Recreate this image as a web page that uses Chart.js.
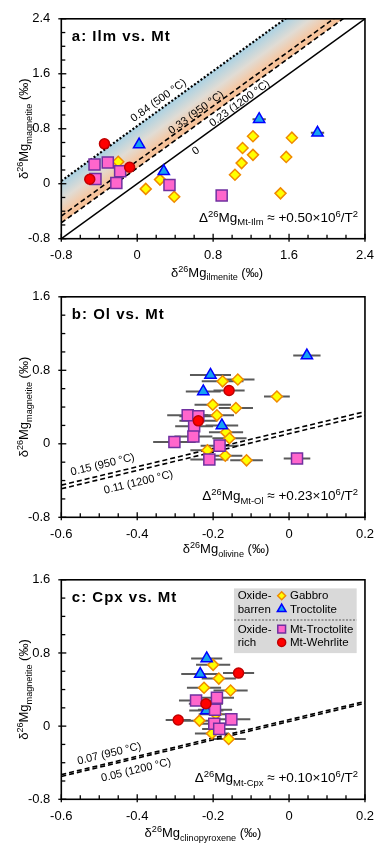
<!DOCTYPE html>
<html>
<head>
<meta charset="utf-8">
<script src="https://cdn.jsdelivr.net/npm/chart.js@4.4.1/dist/chart.umd.min.js"></script>
<style>
    html, body { margin: 0; padding: 0; background: #fff; }
    #wrap { position: relative; width: 383px; height: 848px; }
    canvas { position: absolute; left: 0; }
</style>
</head>
<body>
<div id="wrap">
    <canvas id="chartA" width="383" height="284" style="top:0px"></canvas>
    <canvas id="chartB" width="383" height="284" style="top:278px"></canvas>
    <canvas id="chartC" width="383" height="287" style="top:561px"></canvas>
</div>
<script>
// ---- panel a: ilmenite vs magnetite ----
const gabbroIlmX = [-0.20, 0.09, 0.24, 0.39, 1.22, 1.63, 1.11, 1.22, 1.57, 1.10, 1.03, 1.51];
const gabbroIlmY = [0.32, -0.075, 0.06, -0.19, 0.69, 0.67, 0.52, 0.42, 0.39, 0.30, 0.13, -0.14];
const troctIlmX = [0.02, 0.28, 1.285, 1.90];
const troctIlmY = [0.57, 0.18, 0.94, 0.74];
const troctIlmErr = [0, 0, 0.07, 0.07];
const mtTroctIlmX = [-0.45, -0.31, -0.44, -0.18, -0.22, 0.34, 0.89];
const mtTroctIlmY = [0.28, 0.31, 0.07, 0.18, 0.01, -0.02, -0.17];
const wehrIlmX = [-0.345, -0.50, -0.08];
const wehrIlmY = [0.58, 0.065, 0.24];
const ilmDeltas = [0.84, 0.33, 0.23, 0];
const ilmDeltaLabels = ['0.84 (500 °C)', '0.33 (950 °C)', '0.23 (1200 °C)', '0'];

// ---- panel b: olivine vs magnetite ----
const gabbroOlX = [-0.175, -0.135, -0.032, -0.201, -0.14, -0.19, -0.166, -0.157, -0.215, -0.168, -0.112];
const gabbroOlY = [0.68, 0.70, 0.515, 0.425, 0.39, 0.31, 0.125, 0.06, -0.07, -0.13, -0.18];
const gabbroOlErr = [0.055, 0.044, 0.034, 0.048, 0.045, 0.045, 0.045, 0.045, 0.045, 0.045, 0.043];
const troctOlX = [0.047, -0.207, -0.226, -0.177];
const troctOlY = [0.96, 0.75, 0.57, 0.20];
const troctOlErr = [0.036, 0.054, 0.046, 0.043];
const mtTroctOlX = [-0.267, -0.239, -0.25, -0.302, -0.252, -0.183, -0.21, 0.021];
const mtTroctOlY = [0.31, 0.30, 0.19, 0.02, 0.08, -0.02, -0.17, -0.16];
const mtTroctOlErr = [0.054, 0.05, 0.05, 0.056, 0.05, 0.05, 0.05, 0.035];
const wehrOlX = [-0.158, -0.239];
const wehrOlY = [0.58, 0.25];
const wehrOlErr = [0.041, 0.05];
const olDeltas = [0.15, 0.11];
const olDeltaLabels = ['0.15 (950 °C)', '0.11 (1200 °C)'];

// ---- panel c: clinopyroxene vs magnetite ----
const gabbroCpxX = [-0.2, -0.185, -0.224, -0.154, -0.193, -0.236, -0.203, -0.159];
const gabbroCpxY = [0.67, 0.52, 0.42, 0.39, 0.13, 0.06, -0.08, -0.14];
const gabbroCpxErr = [0.045, 0.045, 0.045, 0.045, 0.045, 0.045, 0.045, 0.045];
const troctCpxX = [-0.217, -0.234, -0.218];
const troctCpxY = [0.74, 0.57, 0.17];
const troctCpxErr = [0.041, 0.05, 0.045];
const mtTroctCpxX = [-0.245, -0.19, -0.195, -0.152, -0.197, -0.184];
const mtTroctCpxY = [0.28, 0.31, 0.18, 0.074, 0.025, -0.03];
const mtTroctCpxErr = [0.045, 0.045, 0.045, 0.05, 0.045, 0.045];
const wehrCpxX = [-0.133, -0.219, -0.292];
const wehrCpxY = [0.58, 0.245, 0.067];
const wehrCpxErr = [0.041, 0.045, 0.033];
const cpxDeltas = [0.07, 0.05];
const cpxDeltaLabels = ['0.07 (950 °C)', '0.05 (1200 °C)'];

const legendGroups = ['Oxide-', 'barren', 'Oxide-', 'rich'];
const legendNames = ['Gabbro', 'Troctolite', 'Mt-Troctolite', 'Mt-Wehrlite'];

const FAM = '"Liberation Sans", Arial, Helvetica, sans-serif';
Chart.defaults.font.family = FAM;
Chart.defaults.color = '#000';

const STY = {
    gabbro:  { style: 'rectRot',  r: 5.5, bg: '#ffff00', bd: '#f08a00' },
    troct:   { style: 'triangle', r: 6.5, bg: '#17a2f2', bd: '#0000ff' },
    mtTroct: { style: 'rect',     r: 7.8, bg: '#ff66cc', bd: '#7030a0' },
    wehr:    { style: 'circle',   r: 5,   bg: '#ff0000', bd: '#c00000' }
};
const LEGEND_KEYS = ['gabbro', 'troct', 'mtTroct', 'wehr'];
const ERR_COLOR = '#5a5a5a';

const pts = (xs, ys) => xs.map((x, i) => ({ x, y: ys[i] }));
const fmt = v => String(Math.round(v * 10) / 10);

function pointSet(label, key, xs, ys, errs) {
    const s = STY[key];
    return {
        type: 'scatter', label, data: pts(xs, ys), errX: errs || null,
        pointStyle: s.style, pointRadius: s.r, backgroundColor: s.bg, borderColor: s.bd,
        pointBorderWidth: 1.5, order: 0
    };
}

function refLine(d, xMin, xMax, st) {
    return {
        type: 'line', data: [{ x: xMin, y: xMin + d }, { x: xMax, y: xMax + d }],
        borderColor: '#000', borderWidth: st.w, borderDash: st.dash, pointRadius: 0,
        fill: false, tension: 0, order: 1
    };
}

// gradient across the band, perpendicular to the 1:1 lines
function bandGradient(dTop, dBot) {
    return (c) => {
        const ch = c.chart, xs = ch.scales.x, ys = ch.scales.y;
        if (!ch.chartArea || !xs || !ys) return 'rgba(0,0,0,0)';
        const xm = (xs.min + xs.max) / 2;
        const p1x = xs.getPixelForValue(xm), p1y = ys.getPixelForValue(xm + dTop);
        const qy = ys.getPixelForValue(xm + dBot);
        const ux = xs.getPixelForValue(xm + 1) - p1x, uy = ys.getPixelForValue(xm + 1 + dTop) - p1y;
        const L = Math.hypot(ux, uy), nx = -uy / L, ny = ux / L;
        const t = (qy - p1y) * ny;
        const g = ch.ctx.createLinearGradient(p1x, p1y, p1x + nx * t, p1y + ny * t);
        g.addColorStop(0, '#a9d1e3');
        g.addColorStop(0.45, '#e1dcd4');
        g.addColorStop(0.83, '#f7c6a0');
        g.addColorStop(1, '#f5bf95');
        return g;
    };
}

// text with super/subscripts: parts = [[text, 'n'|'sup'|'sub'], ...]
function rich(ctx, parts, x, y, size, align, rot) {
    const small = size * 0.7;
    const font = k => (k === 'n' ? size : small) + 'px ' + FAM;
    let w = 0;
    parts.forEach(([t, k]) => { ctx.font = font(k); w += ctx.measureText(t).width; });
    ctx.save();
    ctx.translate(x, y);
    if (rot) ctx.rotate(rot);
    let cx = align === 'center' ? -w / 2 : align === 'right' ? -w : 0;
    ctx.fillStyle = '#000';
    ctx.textAlign = 'left';
    ctx.textBaseline = 'alphabetic';
    parts.forEach(([t, k]) => {
        ctx.font = font(k);
        const dy = k === 'sup' ? -size * 0.38 : k === 'sub' ? size * 0.28 : 0;
        ctx.fillText(t, cx, dy);
        cx += ctx.measureText(t).width;
    });
    ctx.restore();
}

const PANELS = {};

function drawLegend(ctx, a) {
    const bx = a.right - 131, by = a.top + 8.6, bw = 122.7, bh = 64.7;
    ctx.save();
    ctx.fillStyle = '#d9d9d9';
    ctx.fillRect(bx, by, bw, bh);
    ctx.strokeStyle = '#808080';
    ctx.lineWidth = 1.5;
    ctx.setLineDash([2, 1.5]);
    ctx.beginPath();
    ctx.moveTo(bx, by + 31.7);
    ctx.lineTo(bx + bw, by + 31.7);
    ctx.stroke();
    ctx.setLineDash([]);
    const rows = [7.4, 20.7, 40.7, 54];
    ctx.font = '11.5px ' + FAM;
    ctx.fillStyle = '#000';
    ctx.textAlign = 'left';
    ctx.textBaseline = 'middle';
    legendGroups.forEach((g, i) => ctx.fillText(g, bx + 3.7, by + rows[i] + 0.5));
    const sizes = { gabbro: 4, troct: 5, mtTroct: 5.5, wehr: 4 };
    LEGEND_KEYS.forEach((k, i) => {
        const s = STY[k];
        ctx.fillStyle = s.bg;
        ctx.strokeStyle = s.bd;
        ctx.lineWidth = 1.5;
        Chart.helpers.drawPoint(ctx, { pointStyle: s.style, rotation: 0, radius: sizes[k], borderWidth: 1.5 },
            bx + 47.7, by + rows[i]);
        ctx.fillStyle = '#000';
        ctx.fillText(legendNames[i], bx + 56, by + rows[i] + 0.5);
    });
    ctx.restore();
}

const decor = {
    id: 'decor',
    beforeDatasetsDraw(chart) {
        const ctx = chart.ctx, a = chart.chartArea, xs = chart.scales.x, ys = chart.scales.y;
        ctx.save();
        ctx.beginPath();
        ctx.rect(a.left, a.top, a.width, a.height);
        ctx.clip();
        ctx.strokeStyle = ERR_COLOR;
        ctx.lineWidth = 2;
        chart.data.datasets.forEach(ds => {
            if (!ds.errX) return;
            ds.data.forEach((p, i) => {
                const e = ds.errX[i];
                if (!e) return;
                const py = ys.getPixelForValue(p.y);
                ctx.beginPath();
                ctx.moveTo(xs.getPixelForValue(p.x - e), py);
                ctx.lineTo(xs.getPixelForValue(p.x + e), py);
                ctx.stroke();
            });
        });
        ctx.restore();
    },
    afterDraw(chart) {
        const p = PANELS[chart.canvas.id];
        const ctx = chart.ctx, a = chart.chartArea, xs = chart.scales.x, ys = chart.scales.y;
        ctx.save();

        // frame
        ctx.strokeStyle = '#000';
        ctx.lineWidth = 1.6;
        ctx.strokeRect(a.left, a.top, a.width, a.height);

        // tick marks (major cross the axis, minor point inward)
        ctx.lineWidth = 1.3;
        const isMajor = (v, step) => Math.abs(v / step - Math.round(v / step)) < 1e-6;
        const nx = Math.round((p.x[1] - p.x[0]) / p.xMinor);
        for (let i = 0; i <= nx; i++) {
            const v = p.x[0] + i * p.xMinor, px = xs.getPixelForValue(v);
            const maj = isMajor(v - p.x[0], p.x[2]);
            ctx.beginPath();
            ctx.moveTo(px, a.bottom + (maj ? 3 : 0));
            ctx.lineTo(px, a.bottom - (maj ? 5 : 4));
            ctx.stroke();
        }
        const ny = Math.round((p.y[1] - p.y[0]) / p.yMinor);
        for (let i = 0; i <= ny; i++) {
            const v = p.y[0] + i * p.yMinor, py = ys.getPixelForValue(v);
            const maj = isMajor(v - p.y[0], p.y[2]);
            ctx.beginPath();
            ctx.moveTo(a.left - (maj ? 3 : 0), py);
            ctx.lineTo(a.left + (maj ? 5 : 4), py);
            ctx.stroke();
        }

        // labels along the reference lines
        ctx.save();
        ctx.beginPath();
        ctx.rect(a.left, a.top, a.width, a.height);
        ctx.clip();
        p.deltas.forEach((d, i) => {
            const lp = p.labelPos[i];
            const x1 = xs.getPixelForValue(lp.x), y1 = ys.getPixelForValue(lp.x + d);
            const x2 = xs.getPixelForValue(lp.x + 0.1), y2 = ys.getPixelForValue(lp.x + 0.1 + d);
            const ang = Math.atan2(y2 - y1, x2 - x1);
            const cx = x1 + lp.off * Math.sin(ang), cy = y1 - lp.off * Math.cos(ang);
            ctx.save();
            ctx.translate(cx, cy);
            ctx.rotate(ang);
            ctx.font = '11px ' + FAM;
            ctx.fillStyle = '#000';
            ctx.textAlign = 'center';
            ctx.textBaseline = 'middle';
            ctx.fillText(p.deltaLabels[i], 0, 0);
            ctx.restore();
        });
        ctx.restore();

        // panel title
        ctx.font = 'bold 15px ' + FAM;
        ctx.letterSpacing = '1px';
        ctx.fillStyle = '#000';
        ctx.textAlign = 'left';
        ctx.textBaseline = 'alphabetic';
        ctx.fillText(p.title, a.left + 10.5, a.top + 22);
        ctx.letterSpacing = '0px';

        // fractionation equation
        rich(ctx, p.eq, a.right - 7, a.bottom - 17, 13.5, 'right');

        // axis titles
        rich(ctx, p.xTitle, p.xTitleX, a.bottom + p.xTitleDy, 13, 'center');
        rich(ctx, p.yTitle, 28, (a.top + a.bottom) / 2, 13, 'center', -Math.PI / 2);

        if (p.legend) drawLegend(ctx, a);
        ctx.restore();
    }
};

function makeChart(id, p) {
    PANELS[id] = p;
    const datasets = [
        pointSet('Mt-Wehrlite', 'wehr', p.wehr[0], p.wehr[1], p.wehr[2]),
        pointSet('Mt-Troctolite', 'mtTroct', p.mtTroct[0], p.mtTroct[1], p.mtTroct[2]),
        pointSet('Troctolite', 'troct', p.troct[0], p.troct[1], p.troct[2]),
        pointSet('Gabbro', 'gabbro', p.gabbro[0], p.gabbro[1], p.gabbro[2])
    ];
    p.deltas.forEach((d, i) => datasets.push(refLine(d, p.x[0], p.x[1], p.lineStyles[i])));
    if (p.band) {
        const src = datasets[4 + p.band[0]];
        src.fill = { target: 4 + p.band[1] };
        src.backgroundColor = bandGradient(p.deltas[p.band[0]], p.deltas[p.band[1]]);
    }
    return new Chart(document.getElementById(id), {
        type: 'scatter',
        data: { datasets },
        options: {
            responsive: false,
            animation: false,
            events: [],
            layout: { padding: { top: p.padTop, right: 14, left: 0, bottom: 0 } },
            plugins: {
                legend: { display: false },
                tooltip: { enabled: false },
                filler: { drawTime: 'beforeDatasetsDraw' }
            },
            scales: {
                x: {
                    type: 'linear', min: p.x[0], max: p.x[1],
                    afterFit: s => { s.height = p.axisH; },
                    grid: { display: false, drawTicks: false },
                    border: { display: false },
                    ticks: { stepSize: p.x[2], padding: 9, autoSkip: false, maxRotation: 0,
                             font: { size: 13 }, color: '#000', callback: fmt }
                },
                y: {
                    type: 'linear', min: p.y[0], max: p.y[1],
                    afterFit: s => { s.width = 61.3; },
                    grid: { display: false, drawTicks: false },
                    border: { display: false },
                    ticks: { stepSize: p.y[2], padding: 11, autoSkip: false,
                             font: { size: 13 }, color: '#000', callback: fmt }
                }
            }
        },
        plugins: [decor]
    });
}

const dashed = { w: 1.6, dash: [5, 3] };

makeChart('chartA', {
    x: [-0.8, 2.4, 0.8], xMinor: 0.2, y: [-0.8, 2.4, 0.8], yMinor: 0.2,
    padTop: 9.3, axisH: 45.3,
    gabbro: [gabbroIlmX, gabbroIlmY], troct: [troctIlmX, troctIlmY, troctIlmErr],
    mtTroct: [mtTroctIlmX, mtTroctIlmY], wehr: [wehrIlmX, wehrIlmY],
    deltas: ilmDeltas, deltaLabels: ilmDeltaLabels,
    lineStyles: [{ w: 2.2, dash: [2, 2] }, dashed, dashed, { w: 1.5, dash: [] }],
    band: [0, 2],
    labelPos: [{ x: 0.275, off: 8 }, { x: 0.65, off: 4.5 }, { x: 1.03, off: -8 }, { x: 0.57, off: -8 }],
    title: 'a: Ilm vs. Mt',
    eq: [['Δ', 'n'], ['26', 'sup'], ['Mg', 'n'], ['Mt-Ilm', 'sub'], [' ≈ +0.50×10', 'n'], ['6', 'sup'], ['/T', 'n'], ['2', 'sup']],
    xTitle: [['δ', 'n'], ['26', 'sup'], ['Mg', 'n'], ['ilmenite', 'sub'], [' (‰)', 'n']],
    xTitleX: 217, xTitleDy: 38,
    yTitle: [['δ', 'n'], ['26', 'sup'], ['Mg', 'n'], ['magnetite', 'sub'], [' (‰)', 'n']]
});

makeChart('chartB', {
    x: [-0.6, 0.2, 0.2], xMinor: 0.05, y: [-0.8, 1.6, 0.8], yMinor: 0.2,
    padTop: 9.3, axisH: 44.7,
    gabbro: [gabbroOlX, gabbroOlY, gabbroOlErr], troct: [troctOlX, troctOlY, troctOlErr],
    mtTroct: [mtTroctOlX, mtTroctOlY, mtTroctOlErr], wehr: [wehrOlX, wehrOlY, wehrOlErr],
    deltas: olDeltas, deltaLabels: olDeltaLabels,
    lineStyles: [dashed, dashed],
    labelPos: [{ x: -0.485, off: 10 }, { x: -0.404, off: -12 }],
    title: 'b: Ol vs. Mt',
    eq: [['Δ', 'n'], ['26', 'sup'], ['Mg', 'n'], ['Mt-Ol', 'sub'], [' ≈ +0.23×10', 'n'], ['6', 'sup'], ['/T', 'n'], ['2', 'sup']],
    xTitle: [['δ', 'n'], ['26', 'sup'], ['Mg', 'n'], ['olivine', 'sub'], [' (‰)', 'n']],
    xTitleX: 226, xTitleDy: 36,
    yTitle: [['δ', 'n'], ['26', 'sup'], ['Mg', 'n'], ['magnetite', 'sub'], [' (‰)', 'n']]
});

makeChart('chartC', {
    x: [-0.6, 0.2, 0.2], xMinor: 0.05, y: [-0.8, 1.6, 0.8], yMinor: 0.2,
    padTop: 9.7, axisH: 48.7,
    gabbro: [gabbroCpxX, gabbroCpxY, gabbroCpxErr], troct: [troctCpxX, troctCpxY, troctCpxErr],
    mtTroct: [mtTroctCpxX, mtTroctCpxY, mtTroctCpxErr], wehr: [wehrCpxX, wehrCpxY, wehrCpxErr],
    deltas: cpxDeltas, deltaLabels: cpxDeltaLabels,
    lineStyles: [dashed, dashed],
    labelPos: [{ x: -0.468, off: 9 }, { x: -0.41, off: -11.5 }],
    title: 'c: Cpx vs. Mt',
    eq: [['Δ', 'n'], ['26', 'sup'], ['Mg', 'n'], ['Mt-Cpx', 'sub'], [' ≈ +0.10×10', 'n'], ['6', 'sup'], ['/T', 'n'], ['2', 'sup']],
    xTitle: [['δ', 'n'], ['26', 'sup'], ['Mg', 'n'], ['clinopyroxene', 'sub'], [' (‰)', 'n']],
    xTitleX: 203, xTitleDy: 38,
    yTitle: [['δ', 'n'], ['26', 'sup'], ['Mg', 'n'], ['magnetite', 'sub'], [' (‰)', 'n']],
    legend: true
});
</script>
</body>
</html>
